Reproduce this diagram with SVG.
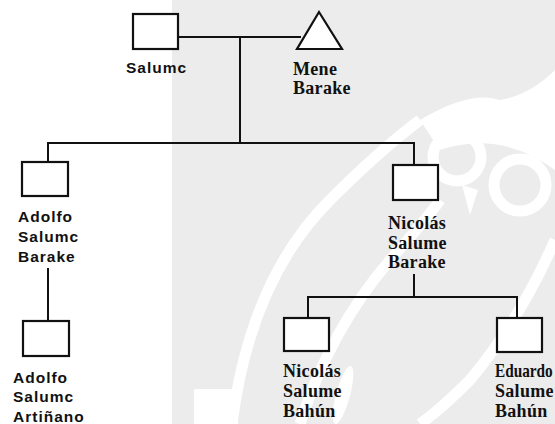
<svg xmlns="http://www.w3.org/2000/svg" width="555" height="424" viewBox="0 0 555 424">
<style>
.box{fill:#fff;stroke:#111;stroke-width:2.2}
.ln{fill:none;stroke:#111;stroke-width:2}
.sans{font-family:"Liberation Sans",Arial,sans-serif;font-weight:bold;font-size:15.5px;letter-spacing:1px;fill:#111}
.serif{font-family:"Liberation Serif","Times New Roman",serif;font-weight:bold;font-size:18px;letter-spacing:0.3px;fill:#111}
.wm{fill:none;stroke:#fff;stroke-width:11}
</style>
<rect x="0" y="0" width="555" height="424" fill="#fff"/>
<g id="watermark">
<rect x="172" y="0" width="383" height="424" fill="#ececec"/>
<path class="wm" d="M232,424 Q250,280 330,200 Q380,150 420,120"/>
<path class="wm" d="M300,424 Q330,330 390,260 Q430,215 440,200"/>
<path d="M420,120 Q470,90 500,100 Q530,95 555,70 L555,170 Q500,130 440,150 Z" fill="#fff"/>
<circle cx="457" cy="157" r="24" class="wm" stroke-width="8"/>
<circle cx="520" cy="185" r="26" class="wm" stroke-width="8"/>
<path d="M462,185 L478,190 L470,215 Z" fill="#fff"/>
<path class="wm" d="M555,240 Q520,320 470,380 Q440,410 420,424"/>
<rect x="194" y="389" width="44" height="35" fill="#fff"/>
<ellipse cx="343" cy="395" rx="7" ry="30" fill="#fff" transform="rotate(15 343 395)"/>
</g>
<g id="connectors">
<line class="ln" x1="178" y1="37" x2="301" y2="37"/>
<line class="ln" x1="240" y1="37" x2="240" y2="143"/>
<path class="ln" d="M48,162 V143 H414 V165"/>
<line class="ln" x1="48" y1="268" x2="48" y2="321"/>
<line class="ln" x1="414" y1="274" x2="414" y2="297"/>
<path class="ln" d="M308,318 V297 H517 V318"/>
</g>
<g id="salume">
<rect class="box" x="133" y="14" width="45" height="35"/>
<text class="sans" x="126" y="73">Salumc</text>
</g>
<g id="mene">
<polygon class="box" points="319,12 297,49 342,49"/>
<text class="serif" x="293" y="75">Mene</text>
<text class="serif" x="293" y="94">Barake</text>
</g>
<g id="adolfo-sb">
<rect class="box" x="22" y="162" width="46" height="34"/>
<text class="sans" x="18" y="222">Adolfo</text>
<text class="sans" x="18" y="242">Salumc</text>
<text class="sans" x="18" y="262">Barake</text>
</g>
<g id="nicolas-sb">
<rect class="box" x="393" y="165" width="45" height="35"/>
<text class="serif" x="388" y="229">Nicolás</text>
<text class="serif" x="388" y="249">Salume</text>
<text class="serif" x="388" y="268">Barake</text>
</g>
<g id="adolfo-sa">
<rect class="box" x="23" y="321" width="46" height="35"/>
<text class="sans" x="13" y="383">Adolfo</text>
<text class="sans" x="13" y="402">Salumc</text>
<text class="sans" x="13" y="422">Artiñano</text>
</g>
<g id="nicolas-sbh">
<rect class="box" x="284" y="318" width="45" height="33"/>
<text class="serif" x="283" y="377">Nicolás</text>
<text class="serif" x="283" y="397">Salume</text>
<text class="serif" x="283" y="417">Bahún</text>
</g>
<g id="eduardo">
<rect class="box" x="497" y="318" width="45" height="34"/>
<text class="serif" transform="translate(495 377) scale(0.85 1)" x="0" y="0" style="letter-spacing:0">Eduardo</text>
<text class="serif" x="495" y="397">Salume</text>
<text class="serif" x="495" y="417">Bahún</text>
</g>
</svg>
